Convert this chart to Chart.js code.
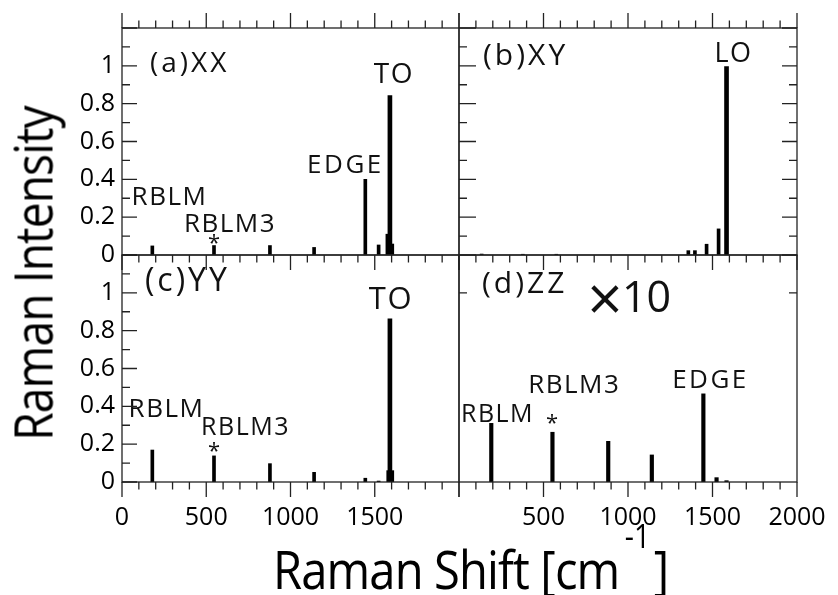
<!DOCTYPE html>
<html>
<head>
<meta charset="utf-8">
<script src="https://cdn.jsdelivr.net/npm/chart.js@4.4.0/dist/chart.umd.min.js"></script>
<style>
  body { margin: 0; background: #fff; }
  #wrap { position: relative; width: 838px; height: 595px; overflow: hidden; font-family: "Open Sans", sans-serif; color: #000; }
  canvas { position: absolute; left: 0; top: 0; }
  .title { position: absolute; font-size: 53px; line-height: 53px; letter-spacing: -1px; white-space: nowrap; }
  #ytitle { left: -168px; top: 247px; width: 400px; height: 53px; text-align: center; transform: rotate(-90deg) scaleX(0.87); }
  #xtitle { left: 273px; top: 542px; transform: scaleX(0.89); transform-origin: 0 0; }
  #xtitle span { font-size: 32px; letter-spacing: 0; position: relative; top: -41px; margin: 0 4px 0 6px; }
</style>
</head>
<body>
<div id="wrap">
  <canvas id="panelXX" width="838" height="595"></canvas>
  <canvas id="panelXY" width="838" height="595"></canvas>
  <canvas id="panelYY" width="838" height="595"></canvas>
  <canvas id="panelZZ" width="838" height="595"></canvas>
  <div id="ytitle" class="title">Raman Intensity</div>
  <div id="xtitle" class="title">Raman Shift [cm<span>-1</span>]</div>
</div>
<script>
// axis ranges and tick labels
const shiftRange = [0, 2000];
const intensityRange = [0, 1.2];
const yTickLabels = [0, 0.2, 0.4, 0.6, 0.8, 1];
const xTickLabelsLeft = [0, 500, 1000, 1500];
const xTickLabelsRight = [500, 1000, 1500, 2000];

// (a) XX
const shiftXX = [180, 546, 878, 1140, 1444, 1523, 1575, 1604];
const intensityXX = [0.048, 0.05, 0.05, 0.04, 0.40, 0.053, 0.11, 0.058];
const peakShiftXX = [1590];
const peakIntensityXX = [0.843];

// (b) XY
const shiftXY = [134, 378, 576, 1357, 1396, 1465, 1536];
const intensityXY = [0.005, 0.004, 0.004, 0.023, 0.023, 0.057, 0.138];
const peakShiftXY = [1583];
const peakIntensityXY = [0.996];

// (c) YY
const shiftYY = [180, 546, 878, 1140, 1444, 1523, 1580, 1604];
const intensityYY = [0.169, 0.138, 0.097, 0.051, 0.02, 0.005, 0.06, 0.06];
const peakShiftYY = [1590];
const peakIntensityYY = [0.862];

// (d) ZZ (x10)
const shiftZZ = [191, 553, 883, 1141, 1446, 1524, 1583];
const intensityZZ = [0.31, 0.263, 0.215, 0.143, 0.466, 0.023, 0.007];
const peakShiftZZ = [];
const peakIntensityZZ = [];

Chart.defaults.font.family = "'Open Sans', sans-serif";

function pairs(xs, ys) {
    return xs.map((v, i) => ({ x: v, y: ys[i] }));
}

// frame + minor/major tick marks (x outward, y inward)
function framePlugin(spec) {
    return {
        id: 'frame',
        afterDraw(chart) {
            const { ctx, chartArea: a, scales: { x, y } } = chart;
            ctx.save();
            ctx.strokeStyle = '#222';
            ctx.lineWidth = 1.3;
            ctx.strokeRect(a.left, a.top, a.right - a.left, a.bottom - a.top);
            ctx.beginPath();
            for (let v = shiftRange[0]; v <= shiftRange[1]; v += 100) {
                const px = x.getPixelForValue(v);
                const len = v % 500 === 0 ? 15 : 7.5;
                if (spec.top) { ctx.moveTo(px, a.top); ctx.lineTo(px, a.top - len); }
                if (spec.bottom) { ctx.moveTo(px, a.bottom); ctx.lineTo(px, a.bottom + len); }
            }
            for (let i = 0; i <= 12; i++) {
                const v = i / 10;
                if (spec.yOnly && !spec.yOnly.includes(v)) continue;
                const py = y.getPixelForValue(v);
                const major = i % 2 === 0;
                if (spec.left) {
                    const len = major ? spec.left[0] : spec.left[1];
                    ctx.moveTo(a.left, py); ctx.lineTo(a.left + len, py);
                }
                if (spec.right) {
                    const len = major ? spec.right[0] : spec.right[1];
                    ctx.moveTo(a.right, py); ctx.lineTo(a.right - len, py);
                }
            }
            ctx.stroke();
            ctx.restore();
        }
    };
}

function notePlugin(notes) {
    return {
        id: 'notes',
        afterDatasetsDraw(chart) {
            const { ctx, scales: { x, y } } = chart;
            ctx.save();
            ctx.fillStyle = '#111';
            ctx.textBaseline = 'alphabetic';
            notes.forEach(n => {
                ctx.font = n.size + "px 'Open Sans'";
                ctx.letterSpacing = (n.spacing ?? 1.5) + 'px';
                ctx.textAlign = n.align || 'center';
                ctx.fillText(n.text, x.getPixelForValue(n.x), y.getPixelForValue(n.y));
            });
            ctx.restore();
        }
    };
}

function makePanel(id, p) {
    const tickFont = { size: 25 };
    return new Chart(document.getElementById(id), {
        type: 'bar',
        data: {
            datasets: [
                { data: pairs(p.shift, p.intensity), backgroundColor: '#000', barThickness: p.thin || 3, grouped: false },
                { data: pairs(p.peakShift, p.peakIntensity), backgroundColor: '#000', barThickness: 4, grouped: false }
            ]
        },
        options: {
            responsive: false,
            animation: false,
            layout: { padding: p.padding },
            plugins: { legend: { display: false }, tooltip: { enabled: false } },
            scales: {
                x: {
                    type: 'linear',
                    min: shiftRange[0], max: shiftRange[1],
                    offset: false,
                    display: !!p.xLabels,
                    grid: { display: false, offset: false, drawTicks: true, tickLength: 21 },
                    border: { display: false },
                    ticks: { font: tickFont, color: '#000', padding: 0, maxRotation: 0, autoSkip: false, callback: v => String(v) },
                    afterBuildTicks: s => { if (p.xLabels) s.ticks = p.xLabels.map(v => ({ value: v })); },
                    afterFit: s => { if (p.xLabels) s.height = 50; }
                },
                y: {
                    min: intensityRange[0], max: intensityRange[1],
                    display: !!p.yLabels,
                    grid: { display: false, drawTicks: false },
                    border: { display: false },
                    ticks: { font: tickFont, color: '#000', padding: 7, autoSkip: false, callback: v => String(v) },
                    afterBuildTicks: s => { if (p.yLabels) s.ticks = p.yLabels.map(v => ({ value: v })); },
                    afterFit: s => { if (p.yLabels) s.width = 122; }
                }
            }
        },
        plugins: [framePlugin(p.frame), notePlugin(p.notes)]
    });
}

makePanel('panelXX', {
    shift: shiftXX, intensity: intensityXX, peakShift: peakShiftXX, peakIntensity: peakIntensityXX,
    padding: { left: 0, top: 28, right: 379, bottom: 340 },
    yLabels: yTickLabels,
    frame: { top: true, bottom: true, left: [15, 8] },
    notes: [
        { text: '(a)XX', x: 166, y: 0.969, size: 28, align: 'left', spacing: 3 },
        { text: 'TO', x: 1614, y: 0.907, size: 28 },
        { text: 'EDGE', x: 1326, y: 0.432, size: 26, spacing: 2.5 },
        { text: 'RBLM', x: 282, y: 0.264, size: 26 },
        { text: 'RBLM3', x: 641, y: 0.123, size: 26 },
        { text: '*', x: 546, y: 0.025, size: 22, spacing: 0 }
    ]
});

makePanel('panelXY', {
    shift: shiftXY, intensity: intensityXY, peakShift: peakShiftXY, peakIntensity: peakIntensityXY,
    padding: { left: 459, top: 28, right: 41, bottom: 340 },
    frame: { top: true, bottom: true, left: [17, 8], right: [15, 8] },
    notes: [
        { text: '(b)XY', x: 142, y: 1.004, size: 30, align: 'left', spacing: 3 },
        { text: 'LO', x: 1624, y: 1.022, size: 27 }
    ]
});

makePanel('panelYY', {
    shift: shiftYY, intensity: intensityYY, peakShift: peakShiftYY, peakIntensity: peakIntensityYY,
    padding: { left: 0, top: 255, right: 379, bottom: 63 },
    yLabels: yTickLabels,
    xLabels: xTickLabelsLeft,
    frame: { bottom: true, left: [15, 8] },
    notes: [
        { text: '(c)YY', x: 136, y: 1.011, size: 32, align: 'left', spacing: 3 },
        { text: 'TO', x: 1596, y: 0.913, size: 31 },
        { text: 'RBLM', x: 264, y: 0.342, size: 26 },
        { text: 'RBLM3', x: 733, y: 0.248, size: 25 },
        { text: '*', x: 546, y: 0.125, size: 22, spacing: 0 }
    ]
});

makePanel('panelZZ', {
    shift: shiftZZ, intensity: intensityZZ, peakShift: peakShiftZZ, peakIntensity: peakIntensityZZ,
    thin: 3.5,
    padding: { left: 459, top: 255, right: 41, bottom: 63 },
    xLabels: xTickLabelsRight,
    frame: { bottom: true, left: [8, 8], right: [8, 8], yOnly: [1] },
    notes: [
        { text: '(d)ZZ', x: 136, y: 0.997, size: 30, align: 'left', spacing: 3 },
        { text: '\u00d7', x: 864, y: 0.85, size: 62, spacing: 0 },
        { text: '10', x: 964, y: 0.897, size: 43, align: 'left', spacing: 0 },
        { text: 'RBLM', x: 228, y: 0.315, size: 25 },
        { text: 'RBLM3', x: 682, y: 0.469, size: 26 },
        { text: '*', x: 550, y: 0.277, size: 22, spacing: 0 },
        { text: 'EDGE', x: 1488, y: 0.495, size: 26, spacing: 2.5 }
    ]
});
</script>
</body>
</html>
